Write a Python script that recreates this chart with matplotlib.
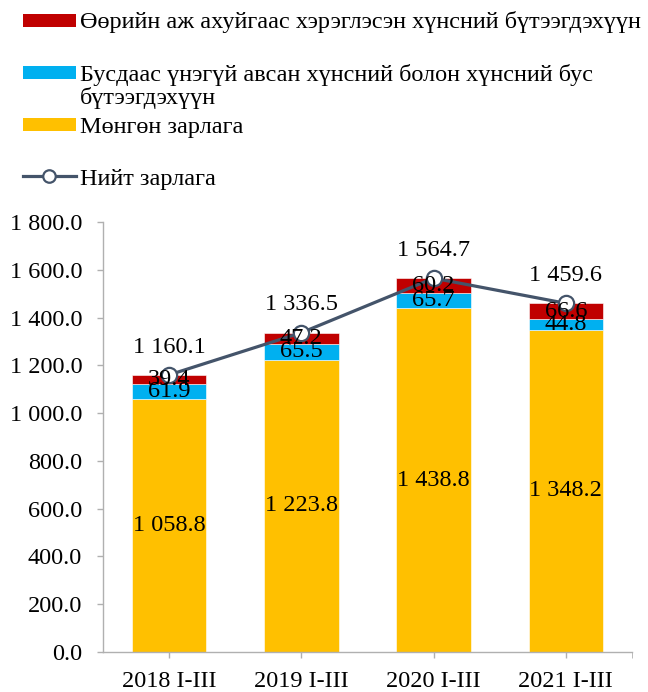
import numpy as np
import matplotlib
matplotlib.use("Agg")
import matplotlib.pyplot as plt
from matplotlib.patches import Rectangle
from matplotlib.lines import Line2D

plt.rcParams['font.family'] = ['Liberation Serif', 'DejaVu Serif']

# data
periods = ['2018 I-III', '2019 I-III', '2020 I-III', '2021 I-III']
mongon = [1058.8, 1223.8, 1438.8, 1348.2]
busdaas = [61.9, 65.5, 65.7, 44.8]
ooriin = [39.4, 47.2, 60.2, 66.6]
niit = [1160.1, 1336.5, 1564.7, 1459.6]

lbl_ooriin = 'Өөрийн аж ахуйгаас хэрэглэсэн хүнсний бүтээгдэхүүн'
lbl_busdaas = 'Бусдаас үнэгүй авсан хүнсний болон хүнсний бус\nбүтээгдэхүүн'
lbl_mongon = 'Мөнгөн зарлага'
lbl_niit = 'Нийт зарлага'

c_yel = '#FFC000'
c_blue = '#00B0F0'
c_red = '#C00000'
c_line = '#44546A'
c_axis = '#B0B0B0'
fs = 17.5

def fmt(v):
    return f"{v:,.1f}".replace(",", " ")

W, H = 648, 692
fig = plt.figure(figsize=(W / 100, H / 100), dpi=100)
ax = fig.add_axes([103 / W, 40 / H, 529 / W, 430 / H])

x = np.arange(len(periods))
mongon = np.array(mongon)
busdaas = np.array(busdaas)
ooriin = np.array(ooriin)
bw = 0.563

ax.bar(x, mongon, bw, color=c_yel, edgecolor='white', linewidth=0.4, zorder=2)
ax.bar(x, busdaas, bw, bottom=mongon, color=c_blue, edgecolor='white', linewidth=0.4, zorder=2)
ax.bar(x, ooriin, bw, bottom=mongon + busdaas, color=c_red, edgecolor='white', linewidth=0.4, zorder=2)

ax.plot(x, niit, color=c_line, lw=2.3, marker='o', ms=11, mfc='white', mec=c_line, mew=1.6, zorder=3)

for i in range(len(x)):
    ax.text(x[i], mongon[i] / 2, fmt(mongon[i]), ha='center', va='center', fontsize=fs, zorder=5)
    ax.text(x[i], mongon[i] + busdaas[i] / 2, fmt(busdaas[i]), ha='center', va='center', fontsize=fs, zorder=5)
    ax.text(x[i], mongon[i] + busdaas[i] + ooriin[i] / 2, fmt(ooriin[i]), ha='center', va='center', fontsize=fs, zorder=5)
    ax.annotate(fmt(niit[i]), (x[i], niit[i]), xytext=(0, 20), textcoords='offset points',
                ha='center', va='center', fontsize=fs, zorder=5)

ax.set_xlim(-0.5, 3.5)
ax.set_ylim(0, 1800)
ax.set_yticks(np.arange(0, 1801, 200))
ax.set_yticklabels([fmt(v) for v in np.arange(0, 1801, 200)])
ax.set_xticks(x)
ax.set_xticklabels(periods)
ax.set_xticks([3.5], minor=True)
ax.tick_params(axis='both', labelsize=fs, color=c_axis, length=4.5, width=1)
ax.tick_params(axis='y', pad=10.5)
ax.tick_params(axis='x', which='both', pad=9, length=4.5, color=c_axis)
for s in ['top', 'right']:
    ax.spines[s].set_visible(False)
for s in ['left', 'bottom']:
    ax.spines[s].set_color(c_axis)
    ax.spines[s].set_linewidth(1)

# legend drawn by hand, Excel-like spacing
def fy(py):
    return 1 - py / H

items = [(c_red, lbl_ooriin, 20.5, 22), (c_blue, lbl_busdaas, 72.5, 76), (c_yel, lbl_mongon, 124.5, 127)]
for col, lab, py, ty in items:
    fig.patches.append(Rectangle((23 / W, fy(py + 6.5)), 53 / W, 13 / H, transform=fig.transFigure,
                                 facecolor=col, edgecolor='none'))
    if '\n' in lab:
        fig.text(80 / W, fy(ty - 12), lab, ha='left', va='top', fontsize=fs, linespacing=1.05)
    else:
        fig.text(80 / W, fy(ty), lab, ha='left', va='center', fontsize=fs)

fig.lines.append(Line2D([23 / W, 76 / W], [fy(176), fy(176)], transform=fig.transFigure,
                        color=c_line, lw=2.3))
fig.lines.append(Line2D([49 / W], [fy(176)], transform=fig.transFigure, marker='o', ms=9,
                        mfc='white', mec=c_line, mew=1.6, color=c_line))
fig.text(80 / W, fy(180), lbl_niit, ha='left', va='center', fontsize=fs)

fig.savefig('out.png', dpi=100)
